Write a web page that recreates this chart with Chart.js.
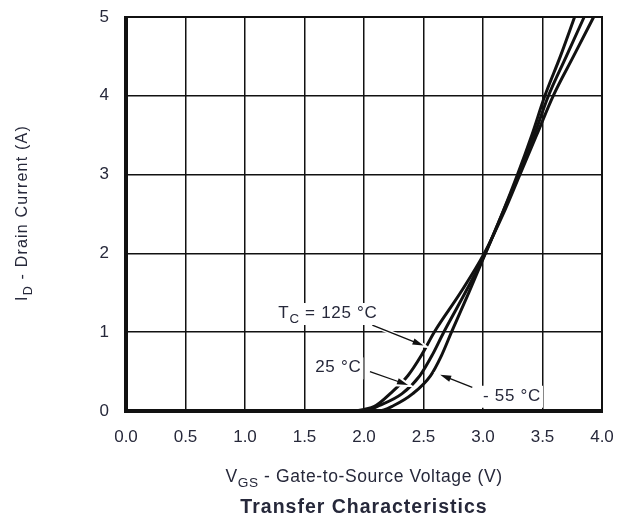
<!DOCTYPE html>
<html>
<head>
<meta charset="utf-8">
<script src="https://cdn.jsdelivr.net/npm/chart.js@4.4.1/dist/chart.umd.min.js"></script>
<style>
  html, body { margin: 0; padding: 0; background: #fff; }
  #wrap { width: 628px; height: 520px; position: relative; }
</style>
</head>
<body>
<div id="wrap"><canvas id="chartTransfer"></canvas></div>
<script>
// ── data (VGS in V, ID in A) ──
const vgs125 = [0.0, 1.88, 2.00, 2.10, 2.22, 2.37, 2.48, 2.59, 2.81, 3.01, 3.17, 3.31, 3.45, 3.59, 3.76, 3.93];
const id125  = [0.0, 0.00, 0.02, 0.07, 0.22, 0.45, 0.70, 1.00, 1.50, 2.00, 2.50, 3.00, 3.50, 4.00, 4.50, 5.00];
const vgs25  = [0.0, 2.00, 2.13, 2.32, 2.47, 2.57, 2.67, 2.85, 3.02, 3.16, 3.30, 3.43, 3.55, 3.70, 3.85];
const id25   = [0.0, 0.00, 0.07, 0.22, 0.45, 0.70, 1.00, 1.50, 2.00, 2.50, 3.00, 3.50, 4.00, 4.50, 5.00];
const vgsM55 = [0.0, 2.12, 2.25, 2.41, 2.56, 2.65, 2.735, 2.88, 3.02, 3.16, 3.29, 3.41, 3.52, 3.65, 3.77];
const idM55  = [0.0, 0.00, 0.07, 0.22, 0.45, 0.70, 1.00, 1.50, 2.00, 2.50, 3.00, 3.50, 4.00, 4.50, 5.00];

const xTicks = [0.0, 0.5, 1.0, 1.5, 2.0, 2.5, 3.0, 3.5, 4.0];
const yTicks = [0, 1, 2, 3, 4, 5];

const FONT = "'Liberation Sans', Arial, sans-serif";
const INK  = '#26283a';

const pts = (xs, ys) => xs.map((x, i) => ({ x, y: ys[i] }));

function lineDs(label, xs, ys) {
  return {
    label,
    data: pts(xs, ys),
    showLine: true,
    borderColor: '#111',
    borderWidth: 3,
    pointRadius: 0,
    cubicInterpolationMode: 'monotone',
    clip: 2,
  };
}

// draws text made of pieces, some subscripted
function richText(ctx, parts, x, y, size, align, bold, spacing) {
  const f = s => (bold ? 'bold ' : '') + s + 'px ' + FONT;
  ctx.letterSpacing = (spacing || 0) + 'px';
  let w = 0;
  parts.forEach(p => { ctx.font = f(p.sub ? size * 0.78 : size); w += ctx.measureText(p.t).width; });
  let cx = align === 'center' ? x - w / 2 : x;
  ctx.textAlign = 'left';
  ctx.textBaseline = 'alphabetic';
  parts.forEach(p => {
    ctx.font = f(p.sub ? size * 0.78 : size);
    ctx.fillText(p.t, cx, p.sub ? y + size * 0.3 : y);
    cx += ctx.measureText(p.t).width;
  });
  ctx.letterSpacing = '0px';
  return w;
}

function arrow(ctx, x1, y1, x2, y2) {
  const a = Math.atan2(y2 - y1, x2 - x1);
  const head = (col, lw) => {
    ctx.strokeStyle = col; ctx.fillStyle = col; ctx.lineWidth = lw;
    ctx.beginPath(); ctx.moveTo(x1, y1); ctx.lineTo(x2 - 6 * Math.cos(a), y2 - 6 * Math.sin(a)); ctx.stroke();
    ctx.beginPath();
    ctx.moveTo(x2, y2);
    ctx.lineTo(x2 - 11 * Math.cos(a) + 3.2 * Math.sin(a), y2 - 11 * Math.sin(a) - 3.2 * Math.cos(a));
    ctx.lineTo(x2 - 11 * Math.cos(a) - 3.2 * Math.sin(a), y2 - 11 * Math.sin(a) + 3.2 * Math.cos(a));
    ctx.closePath(); ctx.fill();
    if (lw > 2) ctx.stroke();
  };
  head('#fff', 4);
  head('#111', 1.3);
}

// curve labels + arrows (positions in data units)
const notes = [
  { parts: [{ t: 'T' }, { t: 'C', sub: true }, { t: ' = 125 °C' }], at: [1.28, 1.18], from: [2.07, 1.09], to: [2.50, 0.83] },
  { parts: [{ t: '25 °C' }], at: [1.59, 0.49], from: [2.05, 0.50], to: [2.37, 0.33] },
  { parts: [{ t: '- 55 °C' }], at: [3.00, 0.13], from: [2.91, 0.30], to: [2.64, 0.46] },
];

const annotate = {
  id: 'annotate',
  afterDatasetsDraw(chart) {
    const { ctx, chartArea: ca, scales: { x, y } } = chart;
    ctx.save();
    // frame: heavy left/bottom, lighter top/right
    ctx.strokeStyle = '#111';
    ctx.lineWidth = 2;
    ctx.strokeRect(ca.left, ca.top, ca.right - ca.left, ca.bottom - ca.top);
    ctx.lineWidth = 4;
    ctx.beginPath();
    ctx.moveTo(ca.left, ca.top - 1); ctx.lineTo(ca.left, ca.bottom); ctx.lineTo(ca.right + 1, ca.bottom);
    ctx.stroke();

    notes.forEach(n => {
      arrow(ctx, x.getPixelForValue(n.from[0]), y.getPixelForValue(n.from[1]),
                 x.getPixelForValue(n.to[0]), y.getPixelForValue(n.to[1]));
      const px = x.getPixelForValue(n.at[0]), py = y.getPixelForValue(n.at[1]);
      const w = richText(ctx, n.parts, -1000, 0, 17, 'left', false, 0.7);
      ctx.fillStyle = '#fff';
      ctx.fillRect(px - 2, py - 15, w + 4, 22);
      ctx.fillStyle = INK;
      richText(ctx, n.parts, px, py, 17, 'left', false, 0.7);
    });

    // axis titles and caption
    ctx.fillStyle = INK;
    const midX = (ca.left + ca.right) / 2;
    richText(ctx, [{ t: 'V' }, { t: 'GS', sub: true }, { t: ' - Gate-to-Source Voltage (V)' }], midX, 482, 17.5, 'center', false, 0.6);
    richText(ctx, [{ t: 'Transfer Characteristics' }], midX, 513, 19.5, 'center', true, 1.0);
    ctx.translate(27, 213);
    ctx.rotate(-Math.PI / 2);
    richText(ctx, [{ t: 'I' }, { t: 'D', sub: true }, { t: ' - Drain Current (A)' }], 0, 0, 16, 'center', false, 1.2);
    ctx.restore();
  },
};

new Chart(document.getElementById('chartTransfer'), {
  type: 'scatter',
  data: {
    datasets: [
      lineDs('125 °C', vgs125, id125),
      lineDs('25 °C', vgs25, id25),
      lineDs('-55 °C', vgsM55, idM55),
    ],
  },
  options: {
    responsive: true,
    maintainAspectRatio: false,
    animation: false,
    layout: { padding: { top: 17, right: 26, left: 0, bottom: 0 } },
    plugins: { legend: { display: false }, tooltip: { enabled: false } },
    scales: {
      x: {
        type: 'linear', min: 0, max: 4,
        afterBuildTicks: s => { s.ticks = xTicks.map(v => ({ value: v })); },
        afterFit: s => { s.height = 109; s.paddingLeft = 0; s.paddingRight = 0; },
        grid: { color: '#111', lineWidth: 1.5, drawTicks: false },
        border: { display: false },
        ticks: { padding: 16, color: INK, font: { family: FONT, size: 17 }, callback: v => v.toFixed(1) },
      },
      y: {
        type: 'linear', min: 0, max: 5,
        afterBuildTicks: s => { s.ticks = yTicks.map(v => ({ value: v })); },
        afterFit: s => { s.width = 126; s.paddingTop = 0; s.paddingBottom = 0; },
        grid: { color: '#111', lineWidth: 1.5, drawTicks: false },
        border: { display: false },
        ticks: { padding: 17, color: INK, font: { family: FONT, size: 17 } },
      },
    },
  },
  plugins: [annotate],
});
</script>
</body>
</html>
